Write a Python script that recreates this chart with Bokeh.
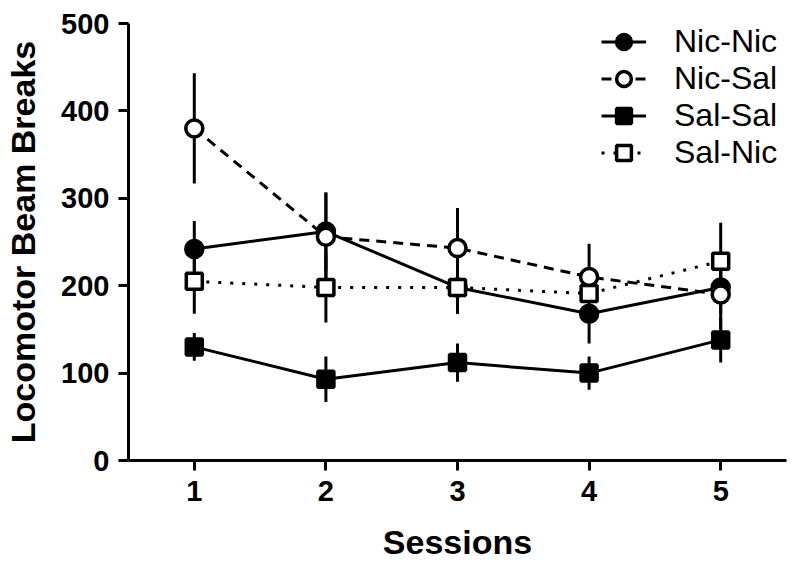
from bokeh.plotting import figure
from bokeh.models import Range1d, FixedTicker, Legend, LegendItem
from bokeh.embed import file_html
from bokeh.resources import INLINE

sessions = [1, 2, 3, 4, 5]
nic_nic = [242, 262, 198, 168, 198]
nic_nic_err = [32, 45, 30, 34, 30]
nic_sal = [380, 256, 243, 210, 190]
nic_sal_err = [63, 50, 46, 38, 40]
sal_sal = [130, 93, 112, 100, 138]
sal_sal_err = [16, 26, 22, 19, 26]
sal_nic = [205, 198, 198, 191, 228]
sal_nic_err = [37, 40, 30, 30, 44]
y_ticks = [0, 100, 200, 300, 400, 500]

FONT = "Liberation Sans"

p = figure(width=800, height=569, output_backend="svg", toolbar_location=None,
           x_range=Range1d(0.5, 5.5), y_range=Range1d(0, 500),
           min_border_left=128, min_border_right=14, min_border_top=23, min_border_bottom=109)
p.grid.visible = False
p.outline_line_color = None

series = [
    ("Nic-Nic", nic_nic, nic_nic_err, "circle", "black", "solid"),
    ("Nic-Sal", nic_sal, nic_sal_err, "circle", "white", "10 7"),
    ("Sal-Sal", sal_sal, sal_sal_err, "square", "black", "solid"),
    ("Sal-Nic", sal_nic, sal_nic_err, "square", "white", "3 9"),
]

# error bars
for name, vals, errs, marker, fill, dash in series:
    lo = [v - e for v, e in zip(vals, errs)]
    hi = [v + e for v, e in zip(vals, errs)]
    p.segment(x0=sessions, y0=lo, x1=sessions, y1=hi, line_color="black", line_width=3)

line_rs = []
for name, vals, errs, marker, fill, dash in series:
    lr = p.line(sessions, vals, line_color="black", line_width=3, line_dash=dash)
    line_rs.append(lr)

items = []
for (name, vals, errs, marker, fill, dash), lr in zip(series, line_rs):
    sz = 17 if marker == "circle" else 16
    sr = p.scatter(sessions, vals, marker=marker, size=sz, fill_color=fill,
                   line_color="black", line_width=3.5)
    items.append(LegendItem(label=name, renderers=[lr, sr]))

legend = Legend(items=items, location="top_right")
legend.label_text_font = FONT
legend.label_text_font_size = "32px"
legend.label_text_color = "black"
legend.glyph_width = 45
legend.glyph_height = 37
legend.label_height = 34
legend.label_width = 112
legend.label_standoff = 28
legend.spacing = 0
legend.padding = 4
legend.margin = 0
legend.border_line_color = None
legend.background_fill_alpha = 0
p.add_layout(legend)

for ax in (p.xaxis, p.yaxis):
    ax.axis_line_width = 3
    ax.major_tick_line_width = 3
    ax.major_tick_out = 10
    ax.major_tick_in = 0
    ax.minor_tick_line_color = None
    ax.major_label_text_font = FONT
    ax.major_label_text_font_style = "bold"
    ax.major_label_text_font_size = "29px"
    ax.axis_label_text_font = FONT
    ax.axis_label_text_font_style = "bold"
    ax.major_label_text_color = "black"
    ax.axis_label_text_color = "black"

p.xaxis.ticker = FixedTicker(ticks=sessions)
p.yaxis.ticker = FixedTicker(ticks=y_ticks)
p.xaxis.axis_label = "Sessions"
p.yaxis.axis_label = "Locomotor Beam Breaks"
p.xaxis.axis_label_text_font_size = "34px"
p.yaxis.axis_label_text_font_size = "34px"
p.xaxis.major_label_standoff = 10
p.yaxis.major_label_standoff = 9
p.xaxis.axis_label_standoff = 19
p.yaxis.axis_label_standoff = 16

open("out.html", "w").write(file_html(p, INLINE))
